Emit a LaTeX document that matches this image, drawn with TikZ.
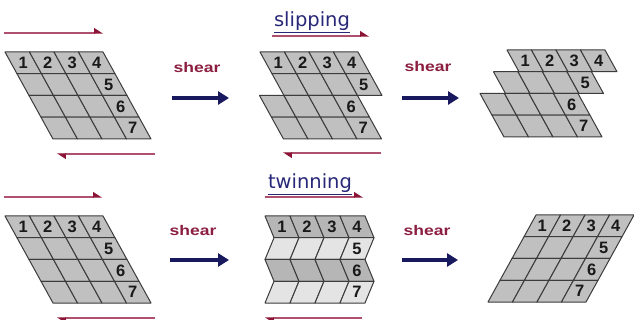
\documentclass[tikz,border=0pt]{standalone}
\usepackage{fontspec}
\usepackage{graphicx}
\usetikzlibrary{arrows.meta}
\newfontfamily\numfont{Liberation Sans}
\newfontfamily\titlefont{DejaVu Sans}
\definecolor{cellfill}{RGB}{192,192,192}
\definecolor{twinlight}{RGB}{228,228,228}
\definecolor{twindark}{RGB}{182,182,182}
\definecolor{gridcol}{RGB}{60,60,60}
\definecolor{redline}{RGB}{175,80,110}
\definecolor{redhead}{RGB}{140,20,55}
\definecolor{navy}{RGB}{25,25,95}
\definecolor{titleblue}{RGB}{40,40,120}
\definecolor{shearred}{RGB}{140,30,65}
\newcommand\hh{21.75}
\newcommand\cw{24.5}
\newcommand\cellrow[4]{%
  \foreach \i in {0,...,3}{
    \filldraw[gridline, fill=#4] ({#1+\i*\cw},#2) -- ({#1+(\i+1)*\cw},#2) -- ({#1+(\i+1)*\cw+#3},{#2+\hh}) -- ({#1+\i*\cw+#3},{#2+\hh}) -- cycle;
  }}
\newcommand\cellnum[6]{%
  \node[num] (#1) at ({#2+(#5+0.5)*\cw+0.5*#4},{#3+0.5*\hh}) {#6};}
\tikzset{
  gridline/.style={draw=gridcol, line width=1pt, line join=round},
  num/.style={font=\numfont\bfseries\fontsize{16.5}{16.5}\selectfont, text=black!90, inner sep=0pt},
  title/.style={font=\titlefont\fontsize{19.5}{20}\selectfont, text=titleblue, inner sep=0pt},
  uline/.style={draw=titleblue, line width=1.2pt},
  redarrow/.style={draw=redline, line width=1.2pt, -{Triangle[harpoon, length=8pt, width=10pt, color=redhead]}},
  navyarrow/.style={draw=navy, line width=3.5pt, -{Triangle[length=11pt, width=13pt]}},
  shearlbl/.style={font=\numfont\bfseries\fontsize{14}{14}\selectfont, text=shearred, inner sep=0pt}
}
\begin{document}
\begin{tikzpicture}[x=1pt, y=-1pt]
\useasboundingbox (0,0) rectangle (634,320);
\fill[white] (0,0) rectangle (634,320);
% ---------- Grid A (top left) ----------
\cellrow{5}{52}{12}{cellfill}
\cellrow{17}{73.75}{12}{cellfill}
\cellrow{29}{95.5}{12}{cellfill}
\cellrow{41}{117.25}{12}{cellfill}
\cellnum{A1}{5}{52}{12}{0}{1}
\cellnum{A2}{5}{52}{12}{1}{2}
\cellnum{A3}{5}{52}{12}{2}{3}
\cellnum{A4}{5}{52}{12}{3}{4}
\cellnum{A5}{17}{73.75}{12}{3}{5}
\cellnum{A6}{29}{95.5}{12}{3}{6}
\cellnum{A7}{41}{117.25}{12}{3}{7}
\coordinate (a1s) at (4,33); \coordinate (a1e) at (103,33);
\coordinate (a2s) at (155,154); \coordinate (a2e) at (57,154);
\draw[redarrow] (a1s) -- (a1e);
\draw[redarrow] (a2s) -- (a2e);
% ---------- shear 1 ----------
\node[shearlbl] (sh1) at (197,67) {\scalebox{1.25}[1]{shear}};
\coordinate (s1s) at (172,98); \coordinate (s1e) at (229,98);
\draw[navyarrow] (s1s) -- (s1e);
% ---------- Grid B (slipping) ----------
\cellrow{260}{52}{12}{cellfill}
\cellrow{272}{73.75}{12}{cellfill}
\cellrow{259.5}{95.5}{12}{cellfill}
\cellrow{271.5}{117.25}{12}{cellfill}
\cellnum{B1}{260}{52}{12}{0}{1}
\cellnum{B2}{260}{52}{12}{1}{2}
\cellnum{B3}{260}{52}{12}{2}{3}
\cellnum{B4}{260}{52}{12}{3}{4}
\cellnum{B5}{272}{73.75}{12}{3}{5}
\cellnum{B6}{259.5}{95.5}{12}{3}{6}
\cellnum{B7}{271.5}{117.25}{12}{3}{7}
\node[title, anchor=base] (slip) at (312,27) {slipping};
\draw[uline] ([yshift=-1.5pt]slip.south west) -- ([yshift=-1.5pt]slip.south east);
\coordinate (b1s) at (272,36); \coordinate (b1e) at (369,36);
\coordinate (b2s) at (381,153); \coordinate (b2e) at (283,153);
\draw[redarrow] (b1s) -- (b1e);
\draw[redarrow] (b2s) -- (b2e);
% ---------- shear 2 ----------
\node[shearlbl] (sh2) at (428,66) {\scalebox{1.25}[1]{shear}};
\coordinate (s2s) at (402,98); \coordinate (s2e) at (459,98);
\draw[navyarrow] (s2s) -- (s2e);
% ---------- Grid C ----------
\cellrow{507}{50}{12}{cellfill}
\cellrow{493.5}{71.75}{12}{cellfill}
\cellrow{480}{93.5}{12}{cellfill}
\cellrow{492}{115.25}{12}{cellfill}
\cellnum{C1}{507}{50}{12}{0}{1}
\cellnum{C2}{507}{50}{12}{1}{2}
\cellnum{C3}{507}{50}{12}{2}{3}
\cellnum{C4}{507}{50}{12}{3}{4}
\cellnum{C5}{493.5}{71.75}{12}{3}{5}
\cellnum{C6}{480}{93.5}{12}{3}{6}
\cellnum{C7}{492}{115.25}{12}{3}{7}
% ---------- Grid D (bottom left) ----------
\cellrow{5}{216}{12}{cellfill}
\cellrow{17}{237.75}{12}{cellfill}
\cellrow{29}{259.5}{12}{cellfill}
\cellrow{41}{281.25}{12}{cellfill}
\cellnum{D1}{5}{216}{12}{0}{1}
\cellnum{D2}{5}{216}{12}{1}{2}
\cellnum{D3}{5}{216}{12}{2}{3}
\cellnum{D4}{5}{216}{12}{3}{4}
\cellnum{D5}{17}{237.75}{12}{3}{5}
\cellnum{D6}{29}{259.5}{12}{3}{6}
\cellnum{D7}{41}{281.25}{12}{3}{7}
\coordinate (d1s) at (4,197); \coordinate (d1e) at (102,197);
\coordinate (d2s) at (155,318); \coordinate (d2e) at (57,318);
\draw[redarrow] (d1s) -- (d1e);
\draw[redarrow] (d2s) -- (d2e);
% ---------- shear 3 ----------
\node[shearlbl] (sh3) at (193,230) {\scalebox{1.25}[1]{shear}};
\coordinate (s3s) at (170,260); \coordinate (s3e) at (229,260);
\draw[navyarrow] (s3s) -- (s3e);
% ---------- Grid E (twinning) ----------
\renewcommand\cw{25}
\cellrow{265}{216}{9}{twindark}
\cellrow{274}{237.75}{-9}{twinlight}
\cellrow{265}{259.5}{9}{twindark}
\cellrow{274}{281.25}{-9}{twinlight}
\cellnum{E1}{265}{216}{9}{0}{1}
\cellnum{E2}{265}{216}{9}{1}{2}
\cellnum{E3}{265}{216}{9}{2}{3}
\cellnum{E4}{265}{216}{9}{3}{4}
\cellnum{E5}{274}{237.75}{-9}{3}{5}
\cellnum{E6}{265}{259.5}{9}{3}{6}
\cellnum{E7}{274}{281.25}{-9}{3}{7}
\node[title, anchor=base] (twin) at (310,189) {twinning};
\draw[uline] ([yshift=-1.5pt]twin.south west) -- ([yshift=-1.5pt]twin.south east);
\coordinate (e1s) at (265,197); \coordinate (e1e) at (363,197);
\coordinate (e2s) at (362,318); \coordinate (e2e) at (265,318);
\draw[redarrow] (e1s) -- (e1e);
\draw[redarrow] (e2s) -- (e2e);
% ---------- shear 4 ----------
\node[shearlbl] (sh4) at (427,230) {\scalebox{1.25}[1]{shear}};
\coordinate (s4s) at (402,260); \coordinate (s4e) at (458,260);
\draw[navyarrow] (s4s) -- (s4e);
% ---------- Grid F ----------
\renewcommand\cw{24.5}
\cellrow{536}{215}{-12}{cellfill}
\cellrow{524}{236.75}{-12}{cellfill}
\cellrow{512}{258.5}{-12}{cellfill}
\cellrow{500}{280.25}{-12}{cellfill}
\cellnum{F1}{536}{215}{-12}{0}{1}
\cellnum{F2}{536}{215}{-12}{1}{2}
\cellnum{F3}{536}{215}{-12}{2}{3}
\cellnum{F4}{536}{215}{-12}{3}{4}
\cellnum{F5}{524}{236.75}{-12}{3}{5}
\cellnum{F6}{512}{258.5}{-12}{3}{6}
\cellnum{F7}{500}{280.25}{-12}{3}{7}
\end{tikzpicture}
\end{document}
